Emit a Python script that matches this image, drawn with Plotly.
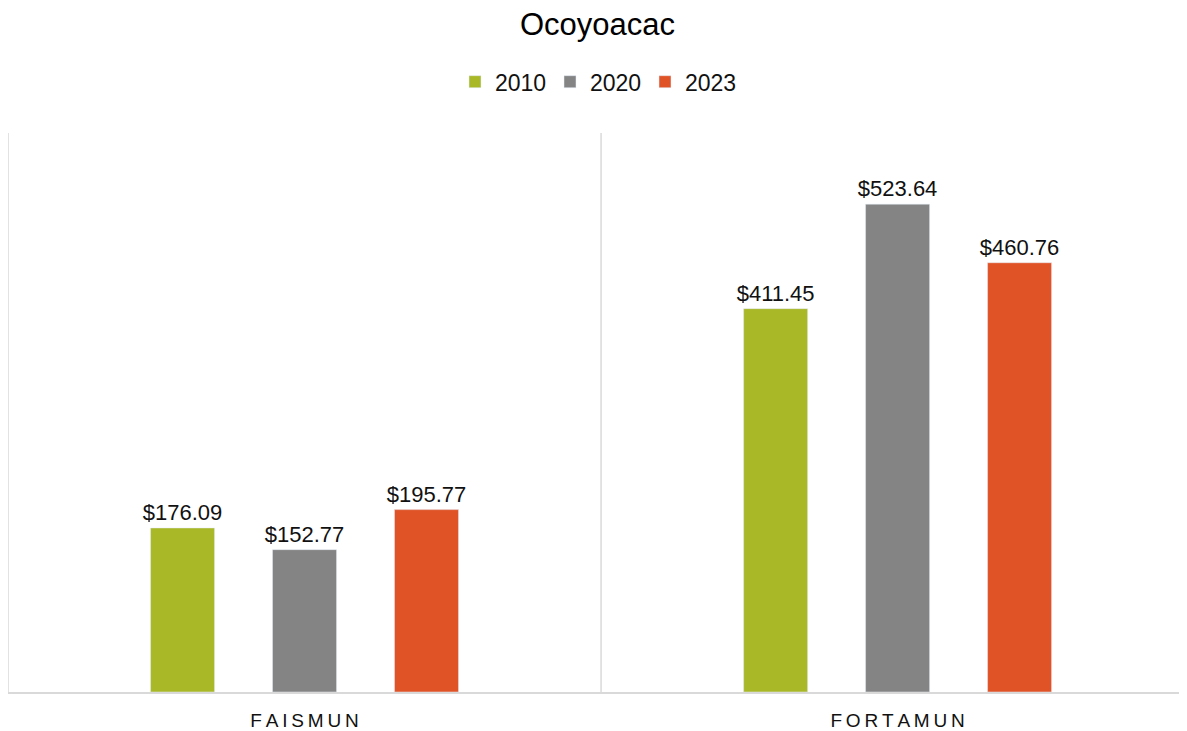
import plotly.graph_objects as go

categories = ["FAISMUN", "FORTAMUN"]
years = ["2010", "2020", "2023"]
values_2010 = [176.09, 411.45]
values_2020 = [152.77, 523.64]
values_2023 = [195.77, 460.76]
colors = ["#A8B827", "#848484", "#E05327"]

# spaced-out tick text like the original
tick_text = ["\u2009".join(c) for c in categories]

fig = go.Figure()
for year, vals, col in zip(years, [values_2010, values_2020, values_2023], colors):
    fig.add_trace(
        go.Bar(
            x=categories,
            y=vals,
            name=year,
            marker_color=col,
            text=[f"${v:,.2f}" for v in vals],
            textposition="outside",
            textfont=dict(size=22, color="#111111"),
            constraintext="none",
            cliponaxis=False,
        )
    )

# vertical separators between categories
for xb in [-0.5, 0.5]:
    fig.add_shape(
        type="line", x0=xb, x1=xb, y0=0, y1=1, xref="x", yref="paper",
        line=dict(color="#D9D9D9", width=1.5), layer="below",
    )

# page body has an 8px margin, so the figure is sized to fit the window
fig.update_layout(
    width=1179,
    height=723,
    paper_bgcolor="white",
    plot_bgcolor="white",
    font=dict(family="Liberation Sans, Arial, sans-serif", color="#111111"),
    title=dict(text="Ocoyoacac", x=0.5, xanchor="center", y=0.978, yanchor="middle",
               font=dict(size=31, color="#000000")),
    legend=dict(orientation="h", x=0.5, xanchor="center", y=0.898, yref="container",
                yanchor="middle", font=dict(size=23), traceorder="normal",
                itemwidth=30, entrywidth=50),
    margin=dict(l=0, r=0, t=125, b=39),
    barmode="group",
    bargap=0.383,
    bargroupgap=0.475,
    showlegend=True,
)
fig.update_xaxes(
    range=[-0.5, 1.488],
    tickvals=categories,
    ticktext=tick_text,
    tickfont=dict(size=19, color="#111111"),
    showline=True,
    linecolor="#D9D9D9",
    linewidth=2,
    ticks="",
    showgrid=False,
    ticklabelstandoff=10,
)
fig.update_yaxes(range=[0, 600], visible=False, showgrid=False)

fig.write_html("out.html")
